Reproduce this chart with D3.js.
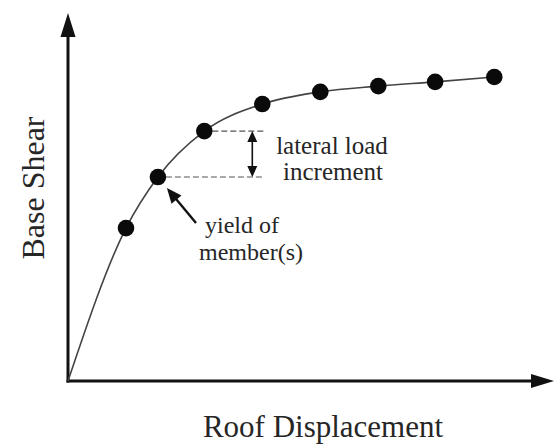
<!DOCTYPE html>
<html>
<head>
  <script src="https://cdn.jsdelivr.net/npm/d3@7"></script>
  <style>
    body { margin: 0; background: #fff; }
  </style>
</head>
<body>
<script>
// pushover curve: roof displacement vs base shear (arbitrary units)
var displacement = [1.0, 1.55, 2.35, 3.35, 4.35, 5.35, 6.33, 7.35];
var baseShear    = [50.3, 67.1, 82.2, 91.1, 95.1, 97.0, 98.4, 100.0];
var yieldIndex = 1;      // point marked "yield of member(s)"
var stepIndex = 2;       // next step used for the load increment

var width = 555, height = 444;
var serif = "'Liberation Serif', 'Times New Roman', 'DejaVu Serif', serif";
var svg = d3.select("body").append("svg")
    .attr("width", width)
    .attr("height", height);

var x = d3.scaleLinear().domain([0, 8]).range([68, 532]);
var y = d3.scaleLinear().domain([0, 100]).range([381, 77]);

// little helper: filled triangle pointing from (x1,y1) to tip (x2,y2)
function head(x1, y1, x2, y2, len, half) {
  var dx = x2 - x1, dy = y2 - y1, d = Math.sqrt(dx * dx + dy * dy);
  var ux = dx / d, uy = dy / d;
  var bx = x2 - ux * len, by = y2 - uy * len;
  return [[x2, y2], [bx - uy * half, by + ux * half], [bx + uy * half, by - ux * half]];
}
function tri(pts) {
  svg.append("path")
    .attr("d", "M" + pts.map(function (p) { return p.join(","); }).join("L") + "Z")
    .attr("fill", "#111");
}
function label(txt, px, py, size, anchor, transform) {
  var t = svg.append("text")
    .attr("font-family", serif)
    .attr("font-size", size)
    .attr("fill", "#262626")
    .attr("text-anchor", anchor)
    .text(txt);
  if (transform) t.attr("transform", transform);
  else t.attr("x", px).attr("y", py);
  return t;
}

// axes
var x0 = x(0), y0 = y(0);
svg.append("line").attr("x1", x0).attr("y1", y0 + 1.5).attr("x2", x0).attr("y2", 30)
  .attr("stroke", "#111").attr("stroke-width", 3);
tri(head(x0, 60, x0, 13, 24, 7.5));
svg.append("line").attr("x1", x0 - 1.5).attr("y1", y0).attr("x2", 535).attr("y2", y0)
  .attr("stroke", "#111").attr("stroke-width", 3);
tri(head(500, y0, 554, y0, 23, 7));

// curve
var pts = [[0, 0]].concat(displacement.map(function (d, i) { return [d, baseShear[i]]; }));
var line = d3.line()
  .x(function (d) { return x(d[0]); })
  .y(function (d) { return y(d[1]); })
  .curve(d3.curveMonotoneX);
svg.append("path").datum(pts)
  .attr("d", line)
  .attr("fill", "none")
  .attr("stroke", "#444")
  .attr("stroke-width", 1.6);

// dashed guides for the load increment
var xEnd = x(displacement[stepIndex + 1]) + 1;
[stepIndex, yieldIndex].forEach(function (i) {
  svg.append("line")
    .attr("x1", x(displacement[i]) + 8).attr("y1", y(baseShear[i]))
    .attr("x2", xEnd).attr("y2", y(baseShear[i]))
    .attr("stroke", "#555").attr("stroke-width", 1.2)
    .attr("stroke-dasharray", "6,3");
});

// double arrow between the two steps
var ax = xEnd - 11;
var yTop = y(baseShear[stepIndex]), yBot = y(baseShear[yieldIndex]);
svg.append("line").attr("x1", ax).attr("y1", yTop + 8).attr("x2", ax).attr("y2", yBot - 8)
  .attr("stroke", "#111").attr("stroke-width", 1.6);
tri(head(ax, yBot, ax, yTop, 11, 5));
tri(head(ax, yTop, ax, yBot, 11, 5));

// points
svg.selectAll("circle.pt")
  .data(displacement)
  .enter().append("circle")
    .attr("class", "pt")
    .attr("cx", function (d) { return x(d); })
    .attr("cy", function (d, i) { return y(baseShear[i]); })
    .attr("r", 8.3)
    .attr("fill", "#0a0a0a");

// yield arrow
var yx = x(displacement[yieldIndex]), yy = y(baseShear[yieldIndex]);
svg.append("line").attr("x1", 196).attr("y1", 223).attr("x2", yx + 14).attr("y2", yy + 17)
  .attr("stroke", "#111").attr("stroke-width", 2.4);
tri(head(196, 223, yx + 9, yy + 11, 15, 6.5));

// annotation text
label("lateral load", 332, 154, 25, "middle");
label("increment", 333, 180, 25, "middle");
label("yield of", 205, 233, 24, "start");
label("member(s)", 199, 260, 24, "start");

// axis titles
label("Roof Displacement", 323, 437, 31, "middle");
label("Base Shear", 0, 0, 32, "middle", "translate(44,188) rotate(-90)");
</script>
</body>
</html>
